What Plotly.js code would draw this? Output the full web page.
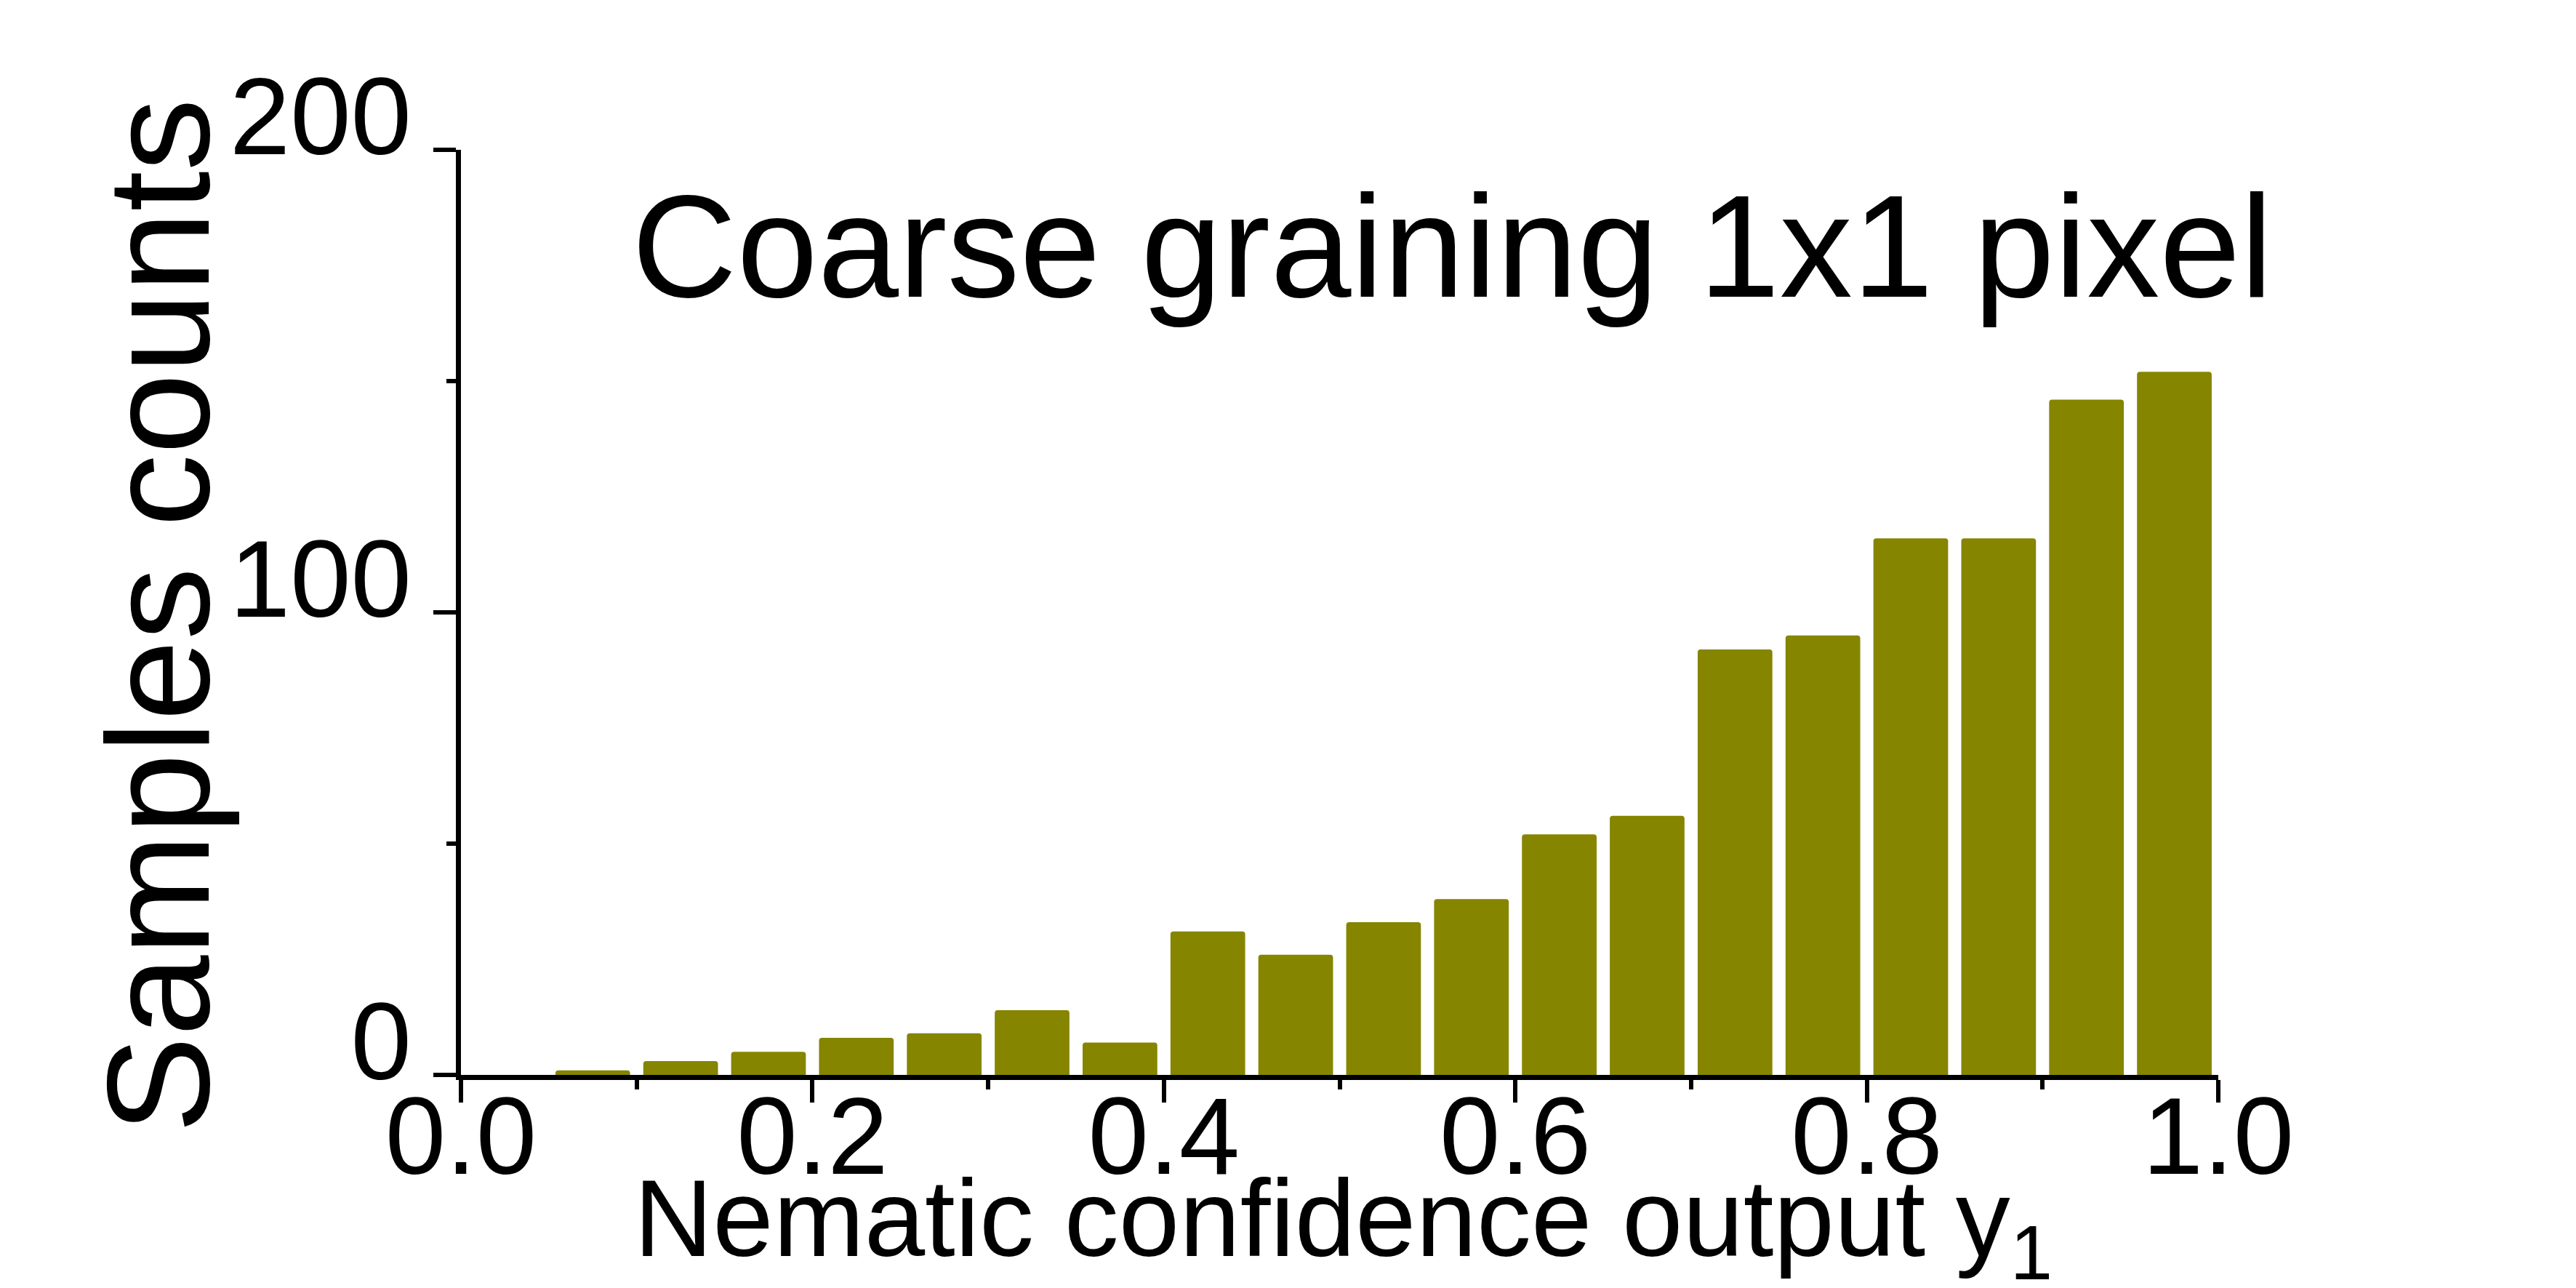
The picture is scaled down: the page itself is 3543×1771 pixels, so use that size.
<!DOCTYPE html>
<html>
<head>
<meta charset="utf-8">
<script src="https://cdn.plot.ly/plotly-3.0.1.min.js"></script>
<style>
  html, body { margin: 0; padding: 0; background: #fff; }
  #plot { width: 3543px; height: 1771px; }
</style>
</head>
<body>
<div id="plot"></div>
<script>
// histogram bins (width 0.05), centres on x
let binCenters = [0.025, 0.075, 0.125, 0.175, 0.225, 0.275, 0.325, 0.375, 0.425, 0.475,
                  0.525, 0.575, 0.625, 0.675, 0.725, 0.775, 0.825, 0.875, 0.925, 0.975];
let counts = [0, 1, 3, 5, 8, 9, 14, 7, 31, 26, 33, 38, 52, 56, 92, 95, 116, 116, 146, 152];

let xTickVals = [0, 0.2, 0.4, 0.6, 0.8, 1.0];
let xTickText = ["0.0", "0.2", "0.4", "0.6", "0.8", "1.0"];
let yTickVals = [0, 100, 200];
let yTickText = ["0", "100", "200"];

let font = "Liberation Sans, Arial, sans-serif";

let trace = {
  x: binCenters,
  y: counts,
  type: "bar",
  width: 0.0425,
  marker: { color: "#858500", cornerradius: 4, line: { width: 0 } },
  hoverinfo: "x+y"
};

let layout = {
  width: 3543,
  height: 1771,
  margin: { l: 634, r: 492, t: 206, b: 293 },
  paper_bgcolor: "#ffffff",
  plot_bgcolor: "#ffffff",
  showlegend: false,
  font: { family: font, color: "#000" },
  xaxis: {
    range: [0, 1],
    showgrid: false,
    zeroline: false,
    showline: true,
    linecolor: "#000",
    linewidth: 7,
    ticks: "outside",
    ticklen: 31,
    tickwidth: 6,
    tickcolor: "#000",
    tickvals: xTickVals,
    ticktext: xTickText,
    ticklabelstandoff: -82,
    tickfont: { family: font, size: 150, color: "#000" },
    minor: { dtick: 0.1, tick0: 0, ticks: "outside", ticklen: 13, tickwidth: 6, tickcolor: "#000", showgrid: false },
    automargin: false
  },
  yaxis: {
    range: [0, 200],
    showgrid: false,
    zeroline: false,
    showline: true,
    linecolor: "#000",
    linewidth: 7,
    ticks: "outside",
    ticklen: 31,
    tickwidth: 6,
    tickcolor: "#000",
    tickvals: yTickVals,
    ticktext: yTickText,
    ticklabelshift: -47,
    tickfont: { family: font, size: 150, color: "#000" },
    minor: { dtick: 50, tick0: 0, ticks: "outside", ticklen: 13, tickwidth: 6, tickcolor: "#000", showgrid: false },
    automargin: false
  },
  annotations: [
    {
      text: "Coarse graining 1x1 pixel",
      xref: "paper", yref: "paper",
      x: 0.564, y: 0.896,
      xanchor: "center", yanchor: "middle",
      showarrow: false,
      font: { family: font, size: 200, color: "#000" }
    },
    {
      // x axis title
      text: "Nematic confidence output y<sub>1</sub>",
      xref: "paper", yref: "paper",
      x: 0.502, y: -0.0875,
      xanchor: "center", yanchor: "top",
      showarrow: false,
      font: { family: font, size: 150, color: "#000" }
    },
    {
      // y axis title
      text: "Samples counts",
      xref: "paper", yref: "paper",
      x: -0.1725, y: 0.496,
      xanchor: "center", yanchor: "middle",
      textangle: -90,
      showarrow: false,
      font: { family: font, size: 200, color: "#000" }
    }
  ]
};

Plotly.newPlot("plot", [trace], layout, { displayModeBar: false, staticPlot: true });
</script>
</body>
</html>
